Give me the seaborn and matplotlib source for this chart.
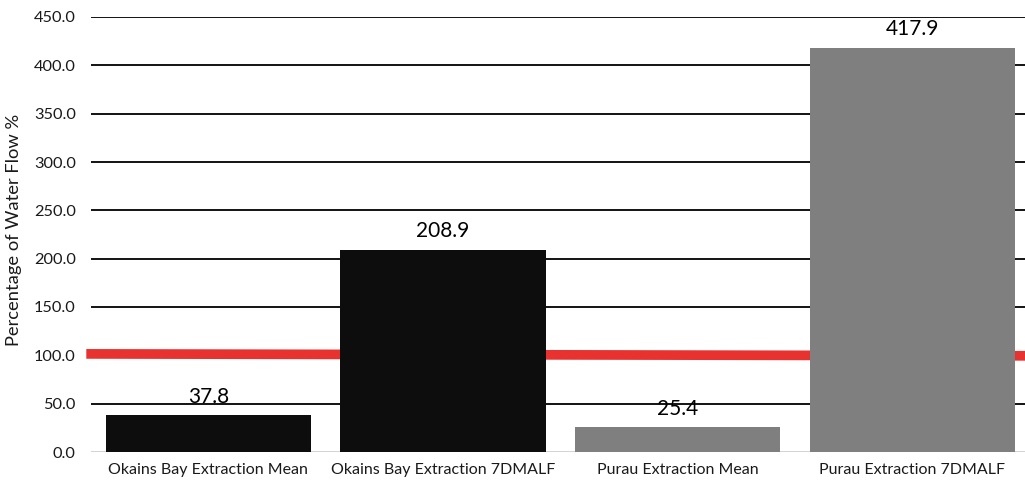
import matplotlib
matplotlib.use("Agg")
import matplotlib.pyplot as plt
import seaborn as sns
import pandas as pd

categories = ["Okains Bay Extraction Mean", "Okains Bay Extraction 7DMALF",
              "Purau Extraction Mean", "Purau Extraction 7DMALF"]
values = [37.8, 208.9, 25.4, 417.9]
bar_colors = ["#0d0d0d", "#0d0d0d", "#7f7f7f", "#7f7f7f"]
ref_x = [-0.52, 3.5]
ref_y = [101.5, 99.5]
yticks = [0, 50, 100, 150, 200, 250, 300, 350, 400, 450]

sns.set_theme(style="white")
plt.rcParams['font.family'] = ['Lato', 'DejaVu Sans']

df = pd.DataFrame({"cat": categories, "val": values})
fig = plt.figure(figsize=(10.25, 4.84), dpi=100)
ax = fig.add_axes([91/1025, 32/484, 1 - 91/1025, 435/484])

for yv in yticks[1:]:
    ax.axhline(yv, color="black", lw=1.3, zorder=0)
ax.axhline(0, color="#d0d0d0", lw=1.3, zorder=0)

ax.plot(ref_x, ref_y, color="#e8322f", lw=7, zorder=1, solid_capstyle="butt", clip_on=False)

sns.barplot(data=df, x="cat", y="val", hue="cat", palette=bar_colors, legend=False,
            width=0.875, ax=ax, zorder=2, saturation=1, linewidth=0)
for p, v in zip(ax.patches, values):
    ax.text(p.get_x() + p.get_width() / 2, v + 9, f"{v:.1f}", ha="center", va="bottom",
            fontsize=15, color="black")

ax.set_xlim(-0.5, 3.48)
ax.set_ylim(0, 450)
ax.set_yticks(yticks)
ax.set_yticklabels([f"{t:.1f}" for t in yticks], fontsize=11.8, color="#1a1a1a")
ax.tick_params(axis="x", labelsize=11.5, length=0, pad=8, labelcolor="#1a1a1a")
ax.tick_params(axis="y", length=0, pad=11)
ax.set_xlabel("")
ax.set_ylabel("Percentage of Water Flow %", fontsize=13.2, color="#1a1a1a")
ax.yaxis.set_label_coords(-0.074, 0.51)
for s in ax.spines.values():
    s.set_visible(False)
ax.grid(False)

fig.savefig("out.png", dpi=100)
